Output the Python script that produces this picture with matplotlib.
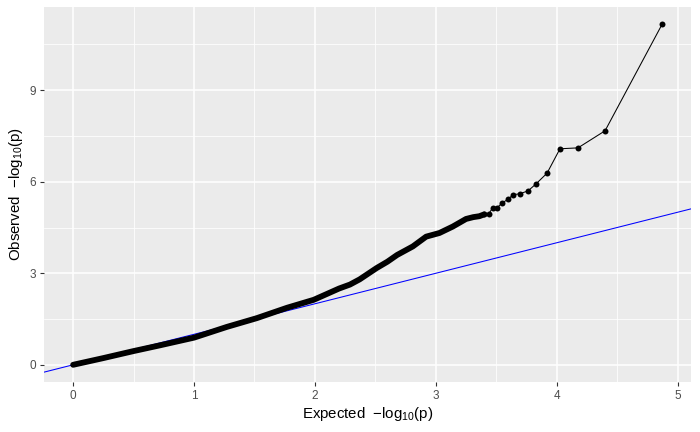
import matplotlib
matplotlib.use("Agg")
import matplotlib.pyplot as plt
import numpy as np

plt.rcParams['font.family'] = ['Liberation Sans', 'DejaVu Sans']
plt.rcParams['mathtext.fontset'] = 'custom'
plt.rcParams['mathtext.rm'] = 'Liberation Sans'
plt.rcParams['mathtext.it'] = 'Liberation Sans:italic'

# dense part of the QQ curve
dense_expected = [0.0, 0.25, 0.5, 0.72, 1.0, 1.27, 1.52, 1.77, 1.99, 2.2,
                  2.29, 2.37, 2.51, 2.6, 2.68, 2.81, 2.92, 3.03, 3.14, 3.25,
                  3.31, 3.36, 3.4]
dense_observed = [0.0, 0.22, 0.45, 0.64, 0.89, 1.24, 1.53, 1.87, 2.13, 2.5,
                  2.63, 2.8, 3.17, 3.38, 3.6, 3.88, 4.2, 4.32, 4.53, 4.78,
                  4.84, 4.87, 4.93]

# tail points, drawn one by one
tail_expected = [3.4, 3.438, 3.471, 3.507, 3.548, 3.598, 3.639, 3.697, 3.763,
                 3.829, 3.92, 4.027, 4.176, 4.40, 4.873]
tail_observed = [4.93, 4.95, 5.15, 5.15, 5.30, 5.43, 5.57, 5.61, 5.70,
                 5.93, 6.28, 7.08, 7.11, 7.67, 11.17]

xticks = [0, 1, 2, 3, 4, 5]
yticks = [0, 3, 6, 9]

fig = plt.figure(figsize=(7, 4.32), dpi=100)
ax = fig.add_axes([0.063, 0.116, 0.924, 0.868])
ax.set_facecolor('#EBEBEB')
for s in ax.spines.values():
    s.set_visible(False)

ax.set_xlim(-0.24, 5.11)
ax.set_ylim(-0.56, 11.73)
ax.set_xticks(xticks)
ax.set_yticks(yticks)
ax.set_xticks([0.5, 1.5, 2.5, 3.5, 4.5], minor=True)
ax.set_yticks([1.5, 4.5, 7.5, 10.5], minor=True)
ax.grid(True, which='major', color='white', lw=1.1)
ax.grid(True, which='minor', color='white', lw=0.55)
ax.set_axisbelow(True)
ax.tick_params(which='major', length=2.75, width=0.8, color='#333333',
               labelcolor='#4D4D4D', labelsize=8.5, pad=3)
ax.tick_params(which='minor', length=0)

ax.axline((0, 0), slope=1, color='blue', lw=0.75, zorder=2)

ax.plot(dense_expected, dense_observed, color='black', lw=4.2,
        solid_capstyle='round', solid_joinstyle='round', zorder=3)
ax.plot(tail_expected, tail_observed, color='black', lw=0.75, zorder=3)
ax.plot(tail_expected, tail_observed, 'o', color='black', ms=4.3, mew=0, zorder=4)

ax.set_xlabel('Expected  \u2212log$_{10}$(p)', fontsize=10.8, labelpad=2)
ax.set_ylabel('Observed  \u2212log$_{10}$(p)', fontsize=10.8, labelpad=3)

fig.savefig('out.png', dpi=100)
